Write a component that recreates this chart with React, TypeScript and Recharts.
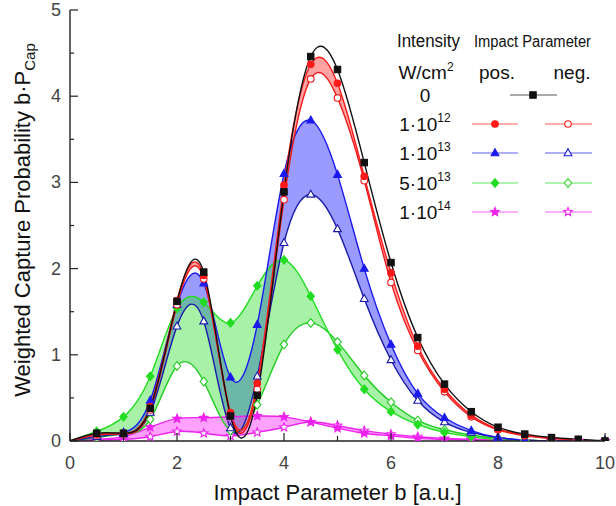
import React from 'react';
import { ComposedChart, Area, Line, XAxis, YAxis } from 'recharts';

// impact parameter grid (a.u.)
const impactB = [0, 0.5, 1, 1.5, 2, 2.5, 3, 3.5, 4, 4.5, 5, 5.5, 6, 6.5, 7, 7.5, 8, 8.5, 9, 9.5, 10];

// weighted capture probability b*P_cap
const noField = [0, 0.09, 0.09, 0.38, 1.62, 1.96, 0.29, 0.53, 2.89, 4.46, 4.31, 3.23, 2.07, 1.2, 0.66, 0.34, 0.16, 0.08, 0.04, 0.02, 0];
const pos1e12 = [0, 0.08, 0.09, 0.4, 1.63, 1.92, 0.33, 0.67, 2.97, 4.37, 4.15, 3.07, 1.95, 1.1, 0.6, 0.3, 0.14, 0.07, 0.03, 0.01, 0];
const neg1e12 = [0, 0.07, 0.08, 0.36, 1.58, 1.88, 0.3, 0.6, 2.8, 4.2, 3.98, 3.02, 1.84, 1.05, 0.57, 0.28, 0.13, 0.06, 0.03, 0.01, 0];
const pos1e13 = [0, 0.08, 0.1, 0.47, 1.58, 1.83, 0.74, 1.35, 3.1, 3.72, 3.09, 2.0, 1.12, 0.55, 0.27, 0.12, 0.04, 0.01, 0, 0, 0];
const neg1e13 = [0, 0.05, 0.08, 0.33, 1.33, 1.39, 0.15, 0.75, 2.3, 2.86, 2.46, 1.65, 0.94, 0.47, 0.22, 0.1, 0.04, 0.01, 0, 0, 0];
const pos5e13 = [0, 0.11, 0.28, 0.75, 1.54, 1.61, 1.37, 1.8, 2.1, 1.68, 1.06, 0.6, 0.34, 0.19, 0.1, 0.05, 0.02, 0.01, 0, 0, 0];
const neg5e13 = [0, 0.04, 0.08, 0.25, 0.87, 0.69, 0.12, 0.42, 1.12, 1.37, 1.15, 0.76, 0.45, 0.24, 0.13, 0.07, 0.03, 0.01, 0, 0, 0];
const pos1e14 = [0, 0.02, 0.05, 0.16, 0.26, 0.27, 0.28, 0.29, 0.28, 0.22, 0.15, 0.09, 0.06, 0.03, 0.02, 0.01, 0, 0, 0, 0, 0];
const neg1e14 = [0, 0.01, 0.02, 0.05, 0.11, 0.09, 0.06, 0.1, 0.16, 0.22, 0.18, 0.12, 0.08, 0.05, 0.03, 0.02, 0.01, 0, 0, 0, 0];

const xTicks = [0, 1, 2, 3, 4, 5, 6, 7, 8, 9, 10];
const yTicks = [0, 0.5, 1, 1.5, 2, 2.5, 3, 3.5, 4, 4.5, 5];

const rows = impactB.map((b, i) => ({
  b,
  i0: noField[i],
  p12: pos1e12[i],
  n12: neg1e12[i],
  p13: pos1e13[i],
  n13: neg1e13[i],
  p5: pos5e13[i],
  n5: neg5e13[i],
  p14: pos1e14[i],
  n14: neg1e14[i],
  band12: [neg1e12[i], pos1e12[i]],
  band13: [neg1e13[i], pos1e13[i]],
  band5: [neg5e13[i], pos5e13[i]],
  band14: [neg1e14[i], pos1e14[i]],
}));

const AXIS = '#222';
const FONT = 'Arial, "Liberation Sans", sans-serif';

type Shape = 'square' | 'circle' | 'triangle' | 'diamond' | 'star';

const Marker = ({ shape, cx, cy, color, open }: { shape: Shape; cx: number; cy: number; color: string; open?: boolean }) => {
  const fill = open ? '#fff' : color;
  const sw = 1.1;
  if (shape === 'square') {
    return <rect x={cx - 3.2} y={cy - 3.2} width={6.4} height={6.4} fill={fill} stroke={color} strokeWidth={sw} />;
  }
  if (shape === 'circle') {
    return <circle cx={cx} cy={cy} r={3.3} fill={fill} stroke={color} strokeWidth={sw} />;
  }
  if (shape === 'triangle') {
    return <polygon points={`${cx},${cy - 4.3} ${cx + 3.9},${cy + 2.7} ${cx - 3.9},${cy + 2.7}`} fill={fill} stroke={color} strokeWidth={sw} />;
  }
  if (shape === 'diamond') {
    return <polygon points={`${cx},${cy - 4.3} ${cx + 3.7},${cy} ${cx},${cy + 4.3} ${cx - 3.7},${cy}`} fill={fill} stroke={color} strokeWidth={sw} />;
  }
  const pts: string[] = [];
  for (let k = 0; k < 10; k++) {
    const r = k % 2 === 0 ? 4.5 : 2;
    const a = -Math.PI / 2 + (k * Math.PI) / 5;
    pts.push(`${cx + r * Math.cos(a)},${cy + r * Math.sin(a)}`);
  }
  return <polygon points={pts.join(' ')} fill={fill} stroke={color} strokeWidth={sw} />;
};

const dotFor = (shape: Shape, color: string, open: boolean, name: string) => (p: any) => {
  if (p.index === 0 || p.cx == null || p.cy == null) return <g key={`${name}-${p.index}`} />;
  return (
    <g key={`${name}-${p.index}`}>
      <Marker shape={shape} cx={p.cx} cy={p.cy} color={color} open={open} />
    </g>
  );
};

const LeftTick = (props: any) => {
  const { x, y, payload } = props;
  const major = Number.isInteger(payload.value);
  return (
    <g>
      <line x1={x} x2={x + (major ? 8 : 4)} y1={y} y2={y} stroke={AXIS} strokeWidth={1.2} />
      {major && (
        <text x={x - 9} y={y} dy={6} textAnchor="end" fontSize={18} fill="#444" fontFamily={FONT}>
          {payload.value}
        </text>
      )}
    </g>
  );
};

const RightTick = (props: any) => {
  const { x, y, payload } = props;
  const major = Number.isInteger(payload.value);
  return <line x1={x} x2={x - (major ? 8 : 4)} y1={y} y2={y} stroke={AXIS} strokeWidth={1.2} />;
};

const BottomTick = (props: any) => {
  const { x, y, payload } = props;
  const major = payload.value % 2 === 0;
  return (
    <g>
      <line x1={x} x2={x} y1={y} y2={y - (major ? 8 : 5)} stroke={AXIS} strokeWidth={1.2} />
      {major && (
        <text x={x} y={y} dy={28} textAnchor="middle" fontSize={18} fill="#444" fontFamily={FONT}>
          {payload.value}
        </text>
      )}
    </g>
  );
};

const TopTick = (props: any) => {
  const { x, y, payload } = props;
  const major = payload.value % 2 === 0;
  return <line x1={x} x2={x} y1={y} y2={y + (major ? 8 : 5)} stroke={AXIS} strokeWidth={1.2} />;
};

const LegendOverlay = () => {
  const rowsY = [95, 124, 153, 183, 212];
  const items: { label: string; sup?: string; color: string; shape: Shape; both: boolean }[] = [
    { label: '0', color: '#111', shape: 'square', both: false },
    { label: '1·10', sup: '12', color: '#ff1a1a', shape: 'circle', both: true },
    { label: '1·10', sup: '13', color: '#1a1aee', shape: 'triangle', both: true },
    { label: '5·10', sup: '13', color: '#22dd22', shape: 'diamond', both: true },
    { label: '1·10', sup: '14', color: '#ee22ee', shape: 'star', both: true },
  ];
  return (
    <svg width={616} height={506} style={{ position: 'absolute', left: 0, top: 0, pointerEvents: 'none' }}>
      <text x={397} y={47} fontSize={18} fontFamily={FONT} fill="#111" textLength={63} lengthAdjust="spacingAndGlyphs">Intensity</text>
      <text x={474} y={47} fontSize={16} fontFamily={FONT} fill="#111" textLength={117} lengthAdjust="spacingAndGlyphs">Impact Parameter</text>
      <text x={426} y={79} textAnchor="middle" fontSize={19} fontFamily={FONT} fill="#111">
        W/cm<tspan dy={-8} fontSize={12}>2</tspan>
      </text>
      <text x={497} y={79} textAnchor="middle" fontSize={19} fontFamily={FONT} fill="#111">pos.</text>
      <text x={572} y={79} textAnchor="middle" fontSize={19} fontFamily={FONT} fill="#111">neg.</text>
      {items.map((it, i) => {
        const y = rowsY[i];
        return (
          <g key={i}>
            <text x={425} y={y + 7} textAnchor="middle" fontSize={19} fontFamily={FONT} fill="#111">
              {it.label}
              {it.sup && <tspan dy={-9} fontSize={12}>{it.sup}</tspan>}
            </text>
            {it.both ? (
              <>
                <line x1={472} x2={518} y1={y} y2={y} stroke={it.color} strokeWidth={1} opacity={0.7} />
                <Marker shape={it.shape} cx={495} cy={y} color={it.color} />
                <line x1={545} x2={592} y1={y} y2={y} stroke={it.color} strokeWidth={1} opacity={0.7} />
                <Marker shape={it.shape} cx={568} cy={y} color={it.color} open />
              </>
            ) : (
              <>
                <line x1={510} x2={557} y1={y} y2={y} stroke={it.color} strokeWidth={1} opacity={0.7} />
                <Marker shape={it.shape} cx={533} cy={y} color={it.color} />
              </>
            )}
          </g>
        );
      })}
    </svg>
  );
};

const bands = [
  { key: 'band13', color: '#3535ff', opacity: 0.5 },
  { key: 'band5', color: '#30e030', opacity: 0.42 },
  { key: 'band14', color: '#ff30ff', opacity: 0.45 },
  { key: 'band12', color: '#ff3030', opacity: 0.45 },
];

const lines: { key: string; color: string; shape: Shape; open: boolean }[] = [
  { key: 'n14', color: '#ee22ee', shape: 'star', open: true },
  { key: 'p14', color: '#ee22ee', shape: 'star', open: false },
  { key: 'n5', color: '#22cc22', shape: 'diamond', open: true },
  { key: 'p5', color: '#22dd22', shape: 'diamond', open: false },
  { key: 'n13', color: '#1a1aaa', shape: 'triangle', open: true },
  { key: 'p13', color: '#1a1aee', shape: 'triangle', open: false },
  { key: 'n12', color: '#ee1a1a', shape: 'circle', open: true },
  { key: 'p12', color: '#ff1a1a', shape: 'circle', open: false },
  { key: 'i0', color: '#111', shape: 'square', open: false },
];

const App = () => {
  return (
    <div style={{ position: 'absolute', left: 0, top: 0, width: 616, height: 506, background: '#fff' }}>
      <ComposedChart width={616} height={506} data={rows} margin={{ top: 10, right: 11, bottom: 0, left: 0 }}>
        <XAxis
          dataKey="b"
          type="number"
          domain={[0, 10]}
          ticks={xTicks}
          interval={0}
          height={65}
          tickSize={0}
          tickMargin={0}
          tick={<BottomTick />}
          axisLine={{ stroke: AXIS, strokeWidth: 1.4 }}
          label={{
            content: (p: any) => (
              <text x={p.viewBox.x + p.viewBox.width / 2} y={p.viewBox.y + 59} textAnchor="middle" fontSize={22} fontFamily={FONT} fill="#111">
                Impact Parameter b [a.u.]
              </text>
            ),
          }}
        />
        <XAxis
          xAxisId="top"
          orientation="top"
          dataKey="b"
          type="number"
          domain={[0, 10]}
          ticks={xTicks}
          interval={0}
          height={0}
          tickSize={0}
          tickMargin={0}
          tick={<TopTick />}
          axisLine={{ stroke: AXIS, strokeWidth: 1.4 }}
        />
        <YAxis
          type="number"
          domain={[0, 5]}
          ticks={yTicks}
          interval={0}
          width={70}
          tickSize={0}
          tickMargin={0}
          allowDataOverflow
          tick={<LeftTick />}
          axisLine={{ stroke: AXIS, strokeWidth: 1.4 }}
          label={{
            content: () => (
              <text x={30} y={220} transform="rotate(-90 30 220)" textAnchor="middle" fontSize={22} fontFamily={FONT} fill="#111">
                Weighted Capture Probability b·P<tspan dy={5} fontSize={15}>Cap</tspan>
              </text>
            ),
          }}
        />
        <YAxis
          yAxisId="right"
          orientation="right"
          type="number"
          domain={[0, 5]}
          ticks={yTicks}
          interval={0}
          width={0}
          tickSize={0}
          tickMargin={0}
          tick={<RightTick />}
          axisLine={{ stroke: AXIS, strokeWidth: 1.4 }}
        />
        {bands.map((bd) => (
          <Area
            key={bd.key}
            dataKey={bd.key}
            type="natural"
            stroke="none"
            fill={bd.color}
            fillOpacity={bd.opacity}
            isAnimationActive={false}
            activeDot={false}
          />
        ))}
        {lines.map((ln) => (
          <Line
            key={ln.key}
            dataKey={ln.key}
            type="natural"
            stroke={ln.color}
            strokeWidth={1.4}
            dot={dotFor(ln.shape, ln.color, ln.open, ln.key)}
            activeDot={false}
            isAnimationActive={false}
          />
        ))}
      </ComposedChart>
      <LegendOverlay />
    </div>
  );
};

export default App;
